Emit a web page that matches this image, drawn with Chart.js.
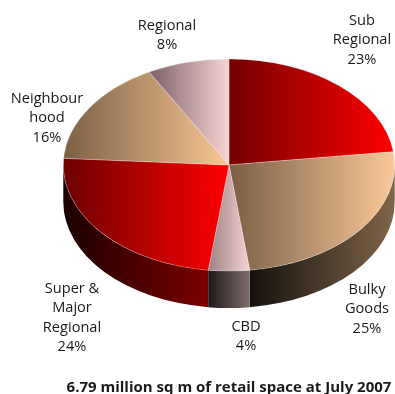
<!DOCTYPE html>
<html>
<head>
<meta charset="utf-8">
<script src="https://cdn.jsdelivr.net/npm/chart.js@4"></script>
<style>
  html, body { margin: 0; padding: 0; background: #fff; }
  #wrap { width: 395px; height: 394px; }
</style>
</head>
<body>
<div id="wrap"><canvas id="pie"></canvas></div>
<script>
const categories = ['Sub Regional', 'Bulky Goods', 'CBD', 'Super & Major Regional', 'Neighbourhood', 'Regional'];
const shares = [23, 25, 4, 24, 16, 8];
const labelLines = [['Sub', 'Regional'], ['Bulky', 'Goods'], ['CBD'], ['Super &', 'Major', 'Regional'], ['Neighbour', 'hood'], ['Regional']];
const footTitle = '6.79 million sq m of retail space at July 2007';

// top face gradient, left edge -> right edge of each slice
const topColours = [
    ['#740000', '#ff0000'],
    ['#7a5e44', '#fac99a'],
    ['#9a8282', '#f8d2d2'],
    ['#6c0000', '#ff0000'],
    ['#7c5f44', '#f8c896'],
    ['#7a6068', '#f8d4d4']
];
// side wall gradient
const sideColours = [
    ['#1a0000', '#7a0000'],
    ['#15110c', '#806549'],
    ['#1e1818', '#806c6c'],
    ['#1a0000', '#7c0000'],
    ['#15110c', '#806549'],
    ['#1e1818', '#806c6c']
];

const FONT = 'Open Sans';
const CY = 165;          // screen centre of the top ellipse
const SQUASH = 0.64;     // ry / rx
const DEPTH = 37;        // height of the side wall

// where each label block sits (centre x, first line y)
const labelSpots = [[362, 21], [367, 290], [246, 327], [72, 289], [47, 99], [167, 26]];
const LINE_GAP = 19.3;

function sliceExtent(chart, index) {
    const area = chart.chartArea;
    const cx = (area.left + area.right) / 2;
    const r = Math.min(area.right - area.left, area.bottom - area.top) / 2;
    const total = shares.reduce((a, b) => a + b, 0);
    let start = -Math.PI / 2;
    for (let i = 0; i < index; i++) start += shares[i] / total * 2 * Math.PI;
    const end = start + shares[index] / total * 2 * Math.PI;
    let lo = cx, hi = cx;
    for (let k = 0; k <= 60; k++) {
        const x = cx + r * Math.cos(start + (end - start) * k / 60);
        lo = Math.min(lo, x);
        hi = Math.max(hi, x);
    }
    return [lo, hi];
}

function topFill(context) {
    const chart = context.chart;
    if (!chart.chartArea) return topColours[context.dataIndex][1];
    const [lo, hi] = sliceExtent(chart, context.dataIndex);
    const g = chart.ctx.createLinearGradient(lo, 0, hi, 0);
    g.addColorStop(0, topColours[context.dataIndex][0]);
    g.addColorStop(1, topColours[context.dataIndex][1]);
    return g;
}

// tilts the pie into an ellipse and extrudes the front wall
const tilt = {
    id: 'tilt',
    beforeDatasetsDraw(chart) {
        const ctx = chart.ctx;
        const arcs = chart.getDatasetMeta(0).data;
        const cx = arcs[0].x;
        const rx = arcs[0].outerRadius;
        const ry = rx * SQUASH;
        ctx.save();
        arcs.forEach((arc, i) => {
            const a0 = Math.max(arc.startAngle, 0);
            const a1 = Math.min(arc.endAngle, Math.PI);
            if (a1 <= a0) return;
            const x0 = cx + rx * Math.cos(a0);
            const x1 = cx + rx * Math.cos(a1);
            const g = ctx.createLinearGradient(Math.min(x0, x1), 0, Math.max(x0, x1), 0);
            g.addColorStop(0, sideColours[i][0]);
            g.addColorStop(1, sideColours[i][1]);
            ctx.beginPath();
            ctx.ellipse(cx, CY, rx, ry, 0, a0, a1);
            ctx.lineTo(x1, CY + ry * Math.sin(a1) + DEPTH);
            ctx.ellipse(cx, CY + DEPTH, rx, ry, 0, a1, a0, true);
            ctx.closePath();
            ctx.fillStyle = g;
            ctx.fill();
        });
        ctx.restore();
        ctx.save();
        ctx.translate(0, CY);
        ctx.scale(1, SQUASH);
        ctx.translate(0, -arcs[0].y);
    },
    afterDatasetsDraw(chart) {
        chart.ctx.restore();
    },
    afterDraw(chart) {
        const ctx = chart.ctx;
        ctx.save();
        ctx.fillStyle = '#1a1a1a';
        ctx.font = '14.6px "' + FONT + '"';
        ctx.textAlign = 'center';
        ctx.textBaseline = 'middle';
        labelLines.forEach((lines, i) => {
            const [x, y] = labelSpots[i];
            const rows = lines.concat([shares[i] + '%']);
            rows.forEach((t, k) => ctx.fillText(t, x, y + k * LINE_GAP));
        });
        ctx.restore();
    }
};

new Chart(document.getElementById('pie'), {
    type: 'pie',
    data: {
        labels: categories,
        datasets: [{
            data: shares,
            backgroundColor: topFill,
            borderColor: 'rgba(255,255,255,0.55)',
            borderWidth: 0.6,
            clip: false
        }]
    },
    options: {
        responsive: true,
        maintainAspectRatio: false,
        animation: false,
        events: [],
        layout: { padding: { left: 63, right: 0, top: 0, bottom: 0 } },
        plugins: {
            legend: { display: false },
            tooltip: { enabled: false },
            title: {
                display: true,
                position: 'bottom',
                text: footTitle,
                color: '#1a1a1a',
                font: { family: FONT, size: 15, weight: 'bold', lineHeight: 0.8 },
                padding: { top: 0, bottom: 0 }
            }
        }
    },
    plugins: [tilt]
});
</script>
</body>
</html>
